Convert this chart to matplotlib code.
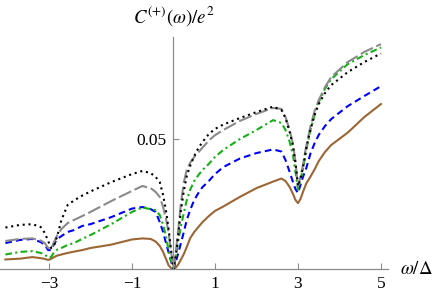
import matplotlib
matplotlib.use("Agg")
import matplotlib.pyplot as plt
import numpy as np

plt.rcParams['mathtext.fontset'] = 'stix'
plt.rcParams['font.family'] = ['Liberation Serif', 'DejaVu Serif']

# omega / Delta grid shared by all curves
omega = [-4.05, -3.7, -3.4, -3.2, -3.1, -3.02, -2.95, -2.88, -2.8, -2.7,
         -2.55, -2.4, -2.2, -2.0, -1.5, -1.0, -0.75, -0.55, -0.43, -0.33,
         -0.25, -0.18, -0.12, -0.06, 0.0, 0.06, 0.12, 0.18, 0.25, 0.32,
         0.4, 0.5, 0.6, 0.7, 0.85, 1.0, 1.2, 1.6, 2.0, 2.4,
         2.6, 2.7, 2.8, 2.88, 2.94, 3.0, 3.06, 3.12, 3.2, 3.3,
         3.4, 3.5, 3.65, 3.8, 4.2, 4.6, 5.0]

# C(+)(omega)/e^2, in units of 1e-3
c_black = [16.0, 17.0, 17.3, 16.2, 13.9, 10.8, 8.1, 8.9, 12.7, 18.9,
           24.7, 26.4, 28.3, 29.9, 33.5, 36.6, 37.8, 37.0, 35.5, 33.5,
           28.5, 22.4, 15.8, 7.3, 0.0, 5.4, 13.9, 22.7, 30.1, 35.9,
           39.7, 43.6, 46.6, 49.0, 52.0, 54.0, 55.7, 58.2, 60.5, 62.6,
           61.3, 58.2, 52.8, 47.4, 40.9, 32.0, 34.7, 38.9, 46.6, 53.6,
           59.4, 63.6, 67.8, 70.9, 75.9, 79.8, 83.1]
c_gray = [10.8, 11.6, 11.8, 11.0, 10.0, 8.1, 7.7, 10.4, 13.1, 15.4,
          17.7, 18.9, 20.4, 22.0, 26.2, 30.1, 32.0, 31.2, 29.7, 27.8,
          23.9, 19.3, 14.3, 6.9, 0.0, 7.3, 15.8, 25.4, 33.5, 38.2,
          40.9, 43.2, 45.0, 46.8, 49.5, 51.6, 53.6, 57.1, 59.8, 62.1,
          61.7, 58.6, 53.6, 48.2, 41.2, 32.0, 35.5, 40.2, 47.5, 55.0,
          60.9, 65.1, 70.1, 74.0, 79.8, 83.7, 86.7]
c_green = [5.6, 6.6, 6.9, 6.2, 5.6, 4.4, 4.6, 6.4, 7.5, 8.1,
           9.3, 10.0, 11.6, 13.1, 17.3, 22.0, 23.7, 23.1, 22.7, 20.8,
           17.0, 12.7, 7.3, 3.5, 0.0, 5.0, 11.2, 16.6, 21.6, 26.6,
           30.5, 33.9, 36.2, 38.2, 40.5, 43.2, 45.9, 50.1, 53.6, 57.4,
           56.3, 53.6, 49.0, 43.9, 37.4, 30.5, 34.3, 38.5, 45.9, 53.6,
           59.4, 64.4, 69.4, 73.2, 79.0, 82.5, 85.4]
c_blue = [10.0, 11.2, 11.6, 10.4, 9.3, 7.3, 7.3, 9.6, 11.6, 12.7,
          14.3, 15.0, 16.6, 17.3, 20.0, 23.3, 23.9, 23.1, 22.0, 18.1,
          14.3, 10.0, 6.6, 3.1, 0.0, 3.0, 6.4, 10.0, 14.3, 18.9,
          22.7, 26.6, 29.3, 31.6, 33.9, 36.6, 39.3, 42.6, 44.7, 46.1,
          45.3, 42.0, 37.4, 33.5, 30.8, 29.3, 32.4, 35.5, 38.9, 44.5,
          48.5, 51.7, 55.1, 57.8, 62.8, 66.7, 70.5]
c_brown = [3.7, 4.0, 4.6, 4.2, 3.9, 3.5, 3.9, 4.6, 5.2, 5.6,
           6.2, 6.7, 7.3, 8.1, 9.4, 11.4, 11.8, 11.6, 10.6, 8.9,
           6.6, 3.9, 1.5, 0.4, 0.0, 0.6, 1.9, 3.7, 5.8, 8.5,
           11.8, 14.3, 16.2, 18.1, 20.4, 22.4, 24.1, 27.8, 31.2, 33.7,
           34.9, 33.9, 31.6, 28.9, 26.6, 25.4, 27.0, 29.7, 33.0, 35.6,
           38.4, 41.6, 45.1, 47.8, 52.6, 58.6, 63.6]

xticks = [-3, -1, 1, 3, 5]
yticks = [0.05]

fig = plt.figure(figsize=(4.36, 2.95), dpi=100)
ax = fig.add_axes([0.0, 0.088, 0.89, 0.788])

x = np.array(omega)
ax.plot(x, np.array(c_brown) / 1000, color='#9c6634', lw=1.5, clip_on=False)
ax.plot(x, np.array(c_blue) / 1000, color='#0000ff', lw=1.5,
        dashes=(3.2, 2.0), clip_on=False)
ax.plot(x, np.array(c_green) / 1000, color='#14b014', lw=1.5,
        dashes=(3.2, 1.6, 1.0, 1.6), clip_on=False)
ax.plot(x, np.array(c_gray) / 1000, color='#8a8a8a', lw=1.5,
        dashes=(6.5, 1.8), clip_on=False)
ax.plot(x, np.array(c_black) / 1000, color='black', lw=1.5,
        dashes=(1.0, 1.8), clip_on=False)

ax.set_xlim(-4.18, 5.17)
ax.set_ylim(0, 0.0896)

# Mathematica-like axes crossing at origin
for s in ['top', 'right']:
    ax.spines[s].set_visible(False)
ax.spines['left'].set_position(('data', 0))
ax.spines['bottom'].set_position(('data', 0))
for s in ['left', 'bottom']:
    ax.spines[s].set_color('#8c8c8c')
    ax.spines[s].set_linewidth(0.9)

ax.set_xticks(xticks)
ax.set_xticklabels(['\u22123', '\u22121', '1', '3', '5'])
ax.set_yticks(yticks)
ax.set_yticklabels(['0.05'])
ax.tick_params(direction='in', length=4, width=0.8, color='#8c8c8c',
               labelsize=12.5, pad=5)
ax.patch.set_visible(False)

fig.text(0.398, 0.946, r'$C^{(+)}(\omega)/e^2$', ha='center', va='center',
         fontsize=13.5)
fig.text(0.917, 0.085, r'$\omega/\Delta$', ha='left', va='center',
         fontsize=13.5)

fig.savefig('out.png', dpi=100)
